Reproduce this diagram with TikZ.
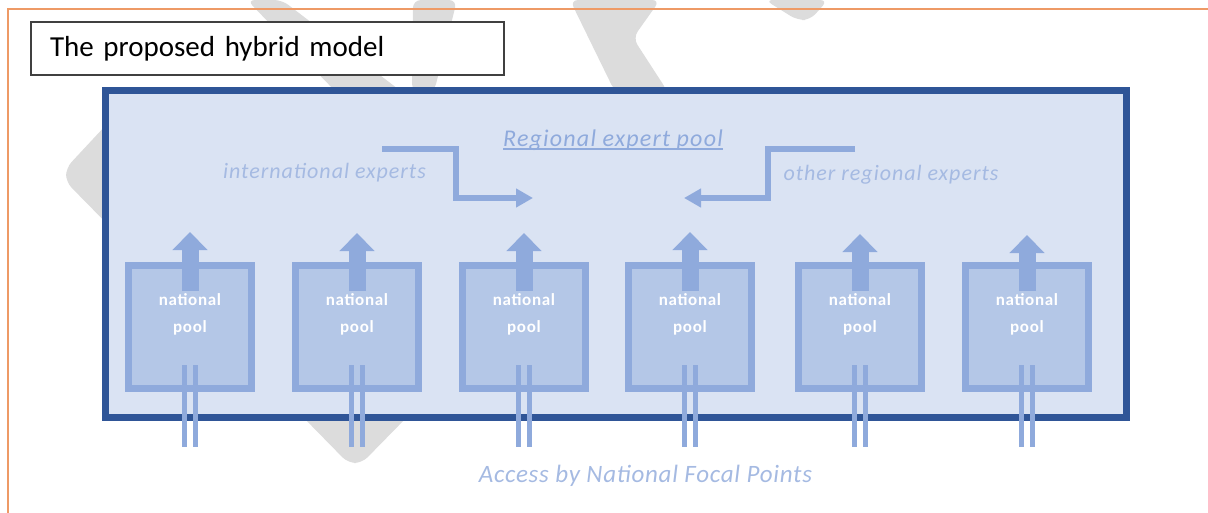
\documentclass[tikz,border=0pt]{standalone}
\usepackage{fontspec}
\setmainfont{Carlito}
\usetikzlibrary{arrows.meta}
\definecolor{frameorange}{HTML}{EE9A66}
\definecolor{regionblue}{HTML}{2F5597}
\definecolor{regionfill}{HTML}{DAE3F3}
\definecolor{poolline}{HTML}{8FAADC}
\definecolor{poolfill}{HTML}{B4C7E7}
\definecolor{hinttext}{HTML}{A5BAE2}
\definecolor{stampgray}{HTML}{DCDCDC}
\tikzset{
  title/.style= {draw=black!75, line width=2, fill=white, anchor=west, inner xsep=19, text width=435, minimum height=53, font=\fontsize{29}{32}\selectfont},
  region/.style= {draw=regionblue, line width=7, fill=regionfill, minimum width=1021, minimum height=327, inner sep=0},
  pool/.style= {draw=poolline, fill=poolfill, line width=7, minimum size=123, inner sep=0},
  tag/.style= {text=white, align=center, anchor=base, font=\fontsize{17}{27}\selectfont\bfseries\addfontfeatures{LetterSpace=4}},
  hint/.style= {text=hinttext, anchor=base, inner sep=0, font=\fontsize{22}{24}\selectfont\itshape\addfontfeatures{LetterSpace=4.5}},
  flow/.style= {draw=poolline, line width=6, -{Triangle[width=18pt,length=17pt]}},
  lift/.style= {draw=poolline, line width=17, -{Triangle[width=34pt,length=18pt]}},
  feed/.style= {draw=poolline, line width=4.5},
  stamp/.style= {fill=stampgray, rounded corners=8},
}

\begin{document}
\begin{tikzpicture}[x=1pt, y=-1pt]
  \useasboundingbox (0,0) rectangle (1208,512);
  % watermark pieces left visible around the boxes
  \fill [stamp] (120,110) -- (66,168) -- (66,182) -- (120,237) -- cycle;
  \fill [stamp] (300,414) -- (348,463) -- (362,463) -- (410,414) -- cycle;
  \fill [stamp] (247,0) -- (282,0) -- (402,92) -- (336,92) -- cycle;
  \fill [stamp] (413,0) -- (457,0) -- (434,92) -- (412,92) -- cycle;
  \fill [stamp] (570,0) -- (660,0) -- (633,38) -- (668,92) -- (615,92) -- cycle;
  \fill [stamp] (765,0) -- (828,0) -- (810,20) -- (797,20) -- cycle;
  \draw [frameorange, line width=2] (1210,8.5) -- (7.5,8.5) -- (7.5,514);

  \node [title] (head) at (30,48.5) {The proposed hybrid model};
  \node [region] (region) at (615.5,253.5) {};

  \node [hint, text=poolline, font=\fontsize{24}{26}\selectfont\itshape\addfontfeatures{LetterSpace=5}] (regional) at (613,146) {Regional expert pool};
  \draw [poolline, line width=1.5] ([yshift=-3pt]regional.base west) -- ([yshift=-3pt]regional.base east);
  \node [hint] (intl) at (324.5,178) {international experts};
  \node [hint] (other) at (891,180) {other regional experts};
  \node [hint, font=\fontsize{25}{27}\selectfont\itshape\addfontfeatures{LetterSpace=3}] (access) at (645.5,482) {Access by National Focal Points};

  \coordinate (intlA) at (382,149);
  \coordinate (intlB) at (533,198);
  \coordinate (otherA) at (855,149);
  \coordinate (otherB) at (684,198);
  \draw [flow] (intlA) -- ++(74,0) |- (intlB);
  \draw [flow] (otherA) -- ++(-87,0) |- (otherB);

  \node [pool] (p1) at (190,327) {};
  \node [pool] (p2) at (357,327) {};
  \node [pool] (p3) at (524,327) {};
  \node [pool] (p4) at (690,327) {};
  \node [pool] (p5) at (860,327) {};
  \node [pool] (p6) at (1027,327) {};

  \draw [lift] ([yshift=36pt]p1.center) -- ([yshift=95pt]p1.center);
  \draw [lift] ([yshift=36pt]p2.center) -- ([yshift=94pt]p2.center);
  \draw [lift] ([yshift=36pt]p3.center) -- ([yshift=94pt]p3.center);
  \draw [lift] ([yshift=36pt]p4.center) -- ([yshift=95pt]p4.center);
  \draw [lift] ([yshift=36pt]p5.center) -- ([yshift=93pt]p5.center);
  \draw [lift] ([yshift=36pt]p6.center) -- ([yshift=92pt]p6.center);

  \node [tag] (t1) at (190,332) {national\\pool};
  \node [tag] (t2) at (357,332) {national\\pool};
  \node [tag] (t3) at (524,332) {national\\pool};
  \node [tag] (t4) at (690,332) {national\\pool};
  \node [tag] (t5) at (860,332) {national\\pool};
  \node [tag] (t6) at (1027,332) {national\\pool};

  \draw [feed] ([xshift=-5.5pt,yshift=-38pt]p1.center) -- ++(0,82);
  \draw [feed] ([xshift=5.5pt,yshift=-38pt]p1.center) -- ++(0,82);
  \draw [feed] ([xshift=-5.5pt,yshift=-38pt]p2.center) -- ++(0,82);
  \draw [feed] ([xshift=5.5pt,yshift=-38pt]p2.center) -- ++(0,82);
  \draw [feed] ([xshift=-5.5pt,yshift=-38pt]p3.center) -- ++(0,82);
  \draw [feed] ([xshift=5.5pt,yshift=-38pt]p3.center) -- ++(0,82);
  \draw [feed] ([xshift=-5.5pt,yshift=-38pt]p4.center) -- ++(0,82);
  \draw [feed] ([xshift=5.5pt,yshift=-38pt]p4.center) -- ++(0,82);
  \draw [feed] ([xshift=-5.5pt,yshift=-38pt]p5.center) -- ++(0,82);
  \draw [feed] ([xshift=5.5pt,yshift=-38pt]p5.center) -- ++(0,82);
  \draw [feed] ([xshift=-5.5pt,yshift=-38pt]p6.center) -- ++(0,82);
  \draw [feed] ([xshift=5.5pt,yshift=-38pt]p6.center) -- ++(0,82);
\end{tikzpicture}
\end{document}
